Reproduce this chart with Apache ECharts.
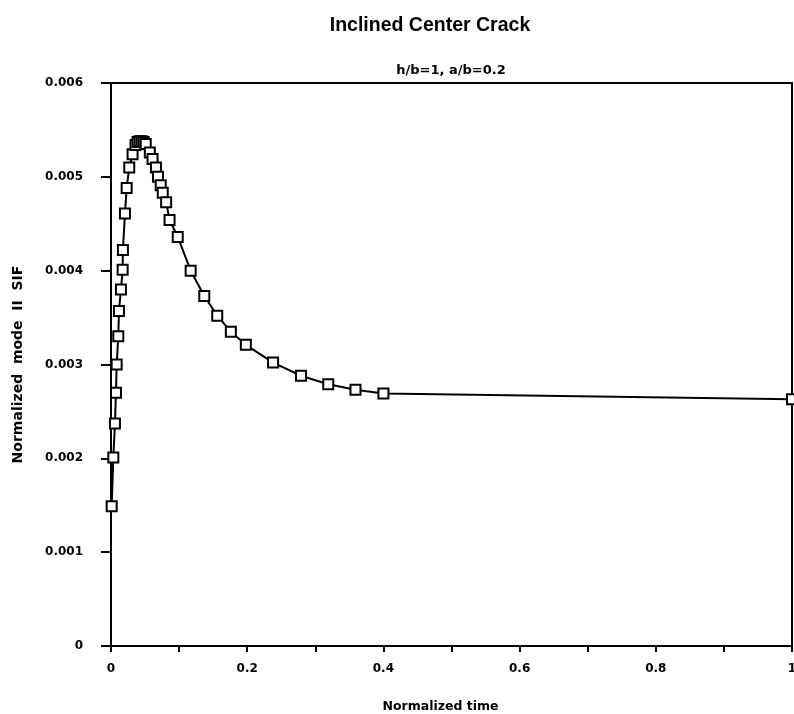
<!DOCTYPE html>
<html>
<head>
<meta charset="utf-8">
<script src="https://cdn.jsdelivr.net/npm/echarts@6/dist/echarts.min.js"></script>
<style>html,body{margin:0;padding:0;background:#fff;}#c{width:794px;height:714px;}</style>
</head>
<body>
<div id="c"></div>
<script>
const titleText = "Inclined Center Crack";
const subtitleText = "h/b=1, a/b=0.2";
const xName = "Normalized time";
const yName = "Normalized  mode  II  SIF";
const xTickLabels = ["0", "0.2", "0.4", "0.6", "0.8", "1"];
const yTickLabels = ["0", "0.001", "0.002", "0.003", "0.004", "0.005", "0.006"];
const timeValues = [0.001, 0.0034, 0.0058, 0.0073, 0.0083, 0.0107, 0.0117, 0.0146, 0.0171, 0.0175, 0.0205, 0.0230, 0.0268, 0.0317,
  0.036, 0.039, 0.042, 0.045, 0.048, 0.051,
  0.057, 0.061, 0.066, 0.069, 0.073, 0.076, 0.081, 0.086, 0.098,
  0.117, 0.137, 0.156, 0.176, 0.198, 0.238, 0.279, 0.319, 0.359, 0.400, 1.0];
const sifValues = [0.00149, 0.00201, 0.00237, 0.00270, 0.00300, 0.00330, 0.00357, 0.00380, 0.00401, 0.00422, 0.00461, 0.00488, 0.00510, 0.00524,
  0.00534, 0.00537, 0.00538, 0.00538, 0.00537, 0.00535,
  0.00526, 0.00519, 0.00510, 0.00500, 0.00491, 0.00483, 0.00473, 0.00454, 0.00436,
  0.00400, 0.00373, 0.00352, 0.00335, 0.00321, 0.00302, 0.00288, 0.00279, 0.00273, 0.00269, 0.00263];

const pts = timeValues.map((t, i) => [t, sifValues[i]]);
const font = "DejaVu Sans";
const chart = echarts.init(document.getElementById('c'));
chart.setOption({
  animation: false,
  backgroundColor: '#fff',
  title: [
    { text: titleText, left: 425, top: 11, textAlign: 'center',
      textStyle: { fontFamily: "Liberation Sans", fontSize: 19.5, fontWeight: 'bold', color: '#000' } },
    { text: subtitleText, left: 446, top: 59, textAlign: 'center',
      textStyle: { fontFamily: font, fontSize: 13, fontWeight: 'bold', color: '#000' } }
  ],
  grid: { left: 111, right: 2, top: 83, bottom: 68, show: true, borderColor: '#000', borderWidth: 2,
    backgroundColor: 'transparent', outerBoundsMode: 'none', containLabel: false },
  xAxis: {
    type: 'value', min: 0, max: 1, interval: 0.1,
    name: xName, nameLocation: 'middle', nameGap: 54,
    nameTextStyle: { fontFamily: font, fontSize: 12.5, fontWeight: 'bold', color: '#000', padding: [0, 22, 0, 0] },
    axisLine: { show: true, lineStyle: { color: '#000', width: 2 } },
    axisTick: { show: true, length: 6, lineStyle: { color: '#000', width: 2 } },
    splitLine: { show: false },
    axisLabel: {
      margin: 17, fontFamily: font, fontSize: 12, fontWeight: 'bold', color: '#000', hideOverlap: false,
      formatter: v => { const k = Math.round(v * 10); return k % 2 === 0 ? xTickLabels[k / 2] : ''; }
    }
  },
  yAxis: {
    type: 'value', min: 0, max: 0.006, interval: 0.001,
    name: yName, nameLocation: 'middle', nameGap: 86, nameRotate: 90,
    nameTextStyle: { fontFamily: font, fontSize: 14, fontWeight: 'bold', color: '#000' },
    axisLine: { show: true, lineStyle: { color: '#000', width: 2 } },
    axisTick: { show: true, length: 10, lineStyle: { color: '#000', width: 2 } },
    splitLine: { show: false },
    axisLabel: {
      margin: 28, fontFamily: font, fontSize: 12, fontWeight: 'bold', color: '#000',
      formatter: v => yTickLabels[Math.round(v * 1000)]
    }
  },
  series: [{
    type: 'line', data: pts, smooth: false,
    symbol: 'rect', symbolSize: 10, showAllSymbol: true,
    lineStyle: { color: '#000', width: 2 },
    itemStyle: { color: '#fff', borderColor: '#000', borderWidth: 2 },
    clip: false
  }]
});
</script>
</body>
</html>
